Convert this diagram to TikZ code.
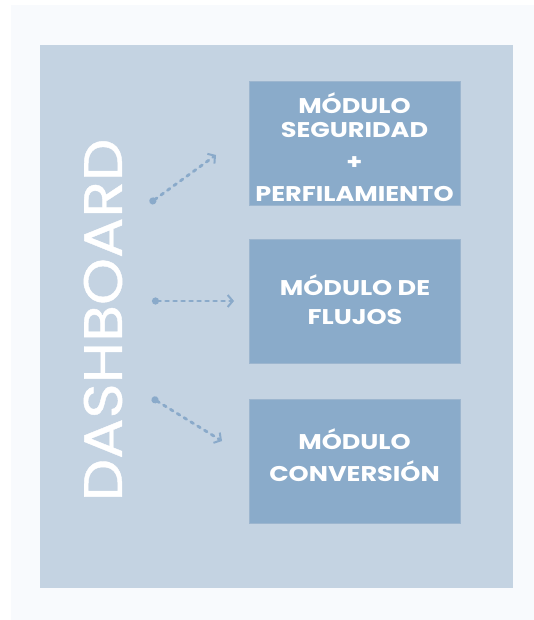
\documentclass[tikz,border=0pt]{standalone}
\usepackage{fontspec}
\setmainfont{Poppins}
\newfontfamily\dashfont{Poppins}[FakeStretch=1.11,FakeBold=0.8]
\newfontfamily\boxfont{Poppins}[FakeStretch=1.2]
\usetikzlibrary{arrows.meta}
\definecolor{bglight}{HTML}{F8FAFD}
\definecolor{panelc}{HTML}{C4D3E2}
\definecolor{boxc}{HTML}{8AABCA}
\definecolor{boxedge}{HTML}{9DB6CF}
\definecolor{arrowc}{HTML}{8AAACA}
\tikzset{
  panel/.style={fill=panelc, draw=none, inner sep=0pt, minimum width=473pt, minimum height=543pt},
  modbox/.style={fill=boxc, draw=boxedge, line width=0.8pt, inner sep=0pt, minimum width=211pt, minimum height=124pt},
  modtext/.style={text=white, align=center, inner sep=0pt, font=\boxfont\bfseries\fontsize{21.3}{24}\selectfont},
  dashtitle/.style={text=white, rotate=90, inner sep=0pt, font=\dashfont\fontsize{54}{60}\selectfont},
  flow/.style={draw=arrowc, line width=2.8pt, line cap=round, dash pattern=on 3pt off 5pt,
    {Circle[length=7pt,width=7pt]}-{Straight Barb[length=5pt,width=12pt,line width=2pt]}}
}
\begin{document}
\begin{tikzpicture}[x=1pt,y=-1pt]
\useasboundingbox (0,0) rectangle (534,620);
\fill[white] (0,0) rectangle (534,620);
\fill[bglight] (11,5) rectangle (534,620);
\node[panel] (panel) at (276.5,316.5) {};
\node[dashtitle] (dash) at (103,320) {DASHBOARD};
\node[modbox] (m1) at (354.5,143) {};
\node[modbox] (m2) at (355,301) {};
\node[modbox] (m3) at (354.5,461) {};
\node[modtext] (m1t) at (354.5,147) {MÓDULO\\SEGURIDAD\\[8pt]+\\[8pt]PERFILAMIENTO};
\node[modtext] (m2t) at (355,300) {MÓDULO DE\\[5pt]FLUJOS};
\node[modtext] (m3t) at (354.5,455) {MÓDULO\\[8pt]CONVERSIÓN};
\coordinate (a1s) at (150,203);
\coordinate (a1e) at (216,155);
\coordinate (a2s) at (152,301);
\coordinate (a2e) at (234,301);
\coordinate (a3s) at (152,398);
\coordinate (a3e) at (222,441);
\draw[flow] (a1s) -- (a1e);
\draw[flow] (a2s) -- (a2e);
\draw[flow] (a3s) -- (a3e);
\end{tikzpicture}
\end{document}
